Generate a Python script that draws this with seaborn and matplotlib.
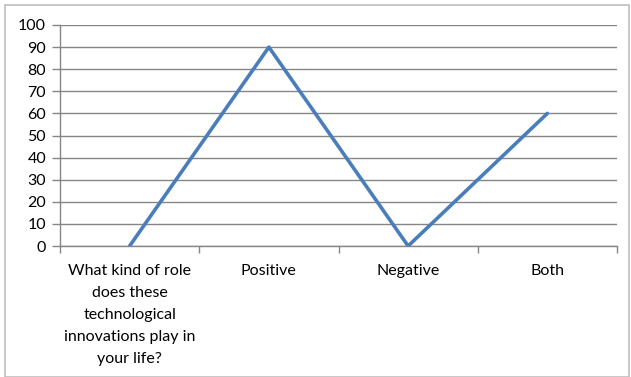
import matplotlib
matplotlib.use("Agg")
import matplotlib.pyplot as plt
import seaborn as sns
import pandas as pd
from matplotlib.patches import Rectangle

categories = ["What kind of role\ndoes these\ntechnological\ninnovations play in\nyour life?",
              "Positive", "Negative", "Both"]
values = [0, 90, 0, 60]
yticks = list(range(0, 101, 10))

sns.set_theme(style="white")
plt.rcParams['font.family'] = ['Lato', 'DejaVu Sans']

df = pd.DataFrame({"cat": categories, "val": values, "x": range(len(categories))})

fig = plt.figure(figsize=(6.31, 3.77), dpi=100)
ax = fig.add_axes([60/631, 1-246/377, (617-60)/631, (246-25)/377])

sns.lineplot(data=df, x="x", y="val", ax=ax, color="#4A7EBB", linewidth=2.6, sort=False)

ax.set_xlim(-0.5, len(categories) - 0.5)
ax.set_ylim(0, 100)
ax.set_yticks(yticks)
ax.set_yticklabels([str(t) for t in yticks], fontsize=11.5, color="#000000")
ax.set_xticks([i - 0.5 for i in range(len(categories) + 1)], minor=False)
ax.set_xticklabels([])
ax.set_xticks(list(range(len(categories))), minor=True)
ax.set_xticklabels(categories, minor=True, fontsize=11.5, color="#000000", linespacing=1.72)
ax.tick_params(axis="x", which="major", length=5, color="#868686", width=1, direction="out", bottom=True)
ax.tick_params(axis="x", which="minor", length=0, pad=13)
ax.tick_params(axis="y", length=6, color="#868686", width=1, direction="out", left=True, pad=4)
ax.set_xlabel("")
ax.set_ylabel("")
ax.grid(axis="y", color="#868686", linewidth=1)
ax.set_axisbelow(True)
for s in ["top", "right"]:
    ax.spines[s].set_visible(False)
ax.spines["left"].set_color("#868686")
ax.spines["bottom"].set_color("#868686")
ax.spines["left"].set_linewidth(1)
ax.spines["bottom"].set_linewidth(1)

fig.patches.append(Rectangle((5/631, 0/377), 624/631, 372/377, transform=fig.transFigure,
                             fill=False, edgecolor="#bfbfbf", linewidth=1.2))

fig.savefig("out.png", dpi=100)
